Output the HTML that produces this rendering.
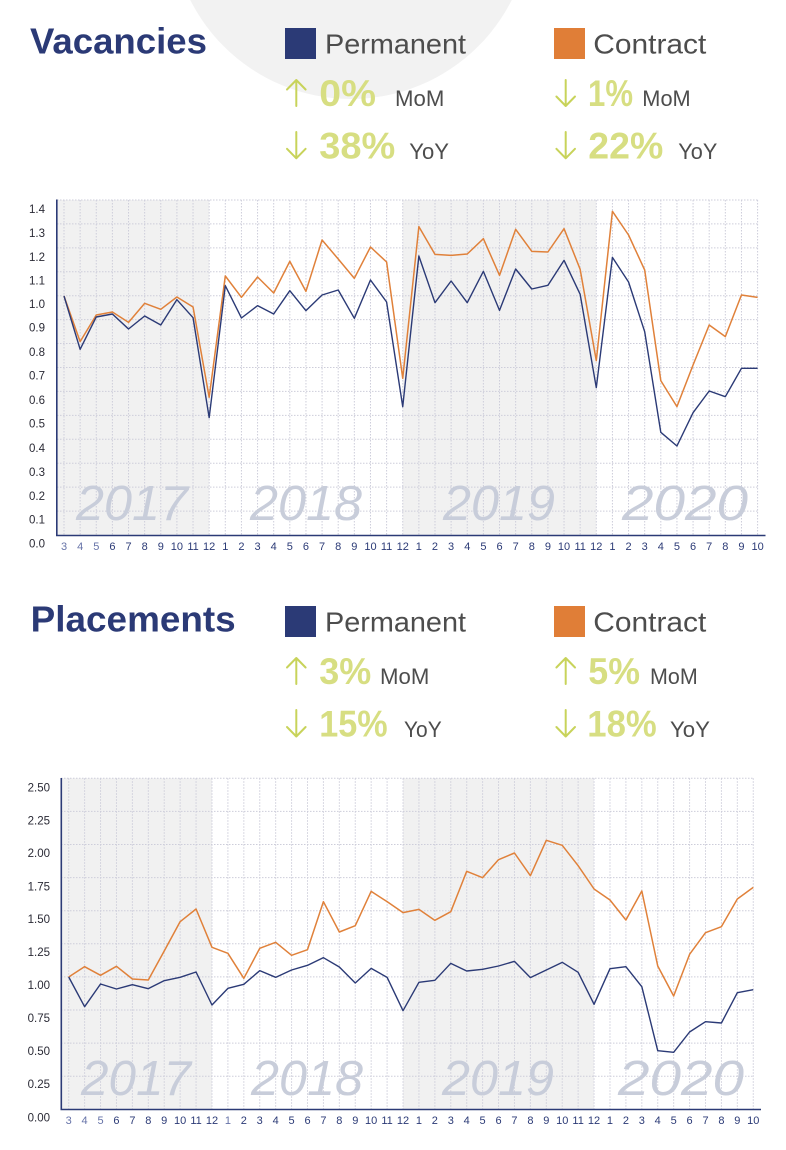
<!DOCTYPE html>
<html><head><meta charset="utf-8">
<style>
html,body{margin:0;padding:0;background:#fff;}
svg{display:block;font-family:"Liberation Sans",sans-serif;}
</style></head>
<body>
<svg width="786" height="1150" viewBox="0 0 786 1150" xmlns="http://www.w3.org/2000/svg">
<!-- background circle -->
<circle cx="351" cy="-81" r="180" fill="#f2f2f2"/>

<!-- ============ VACANCIES HEADER ============ -->
<text x="30" y="53.3" font-size="36" font-weight="bold" fill="#2b3a76" textLength="177" lengthAdjust="spacingAndGlyphs">Vacancies</text>
<rect x="285" y="28" width="31" height="31" fill="#2b3a76"/>
<text x="325" y="53.3" font-size="28" fill="#4d4d4d" textLength="141" lengthAdjust="spacingAndGlyphs">Permanent</text>
<rect x="554" y="28" width="31" height="31" fill="#e07e37"/>
<text x="593.3" y="53.3" font-size="28" fill="#4d4d4d" textLength="113" lengthAdjust="spacingAndGlyphs">Contract</text>

<g fill="none" stroke="#c8d35a" stroke-width="2" stroke-linecap="round" stroke-linejoin="round">
  <path d="M296.3 80V106M287 89.5L296.3 80L305.6 89.5"/>
  <path d="M296.3 132V158.3M287 148.8L296.3 158.3L305.6 148.8"/>
  <path d="M565.7 80V106M556.4 96.5L565.7 106L575 96.5"/>
  <path d="M565.7 132V158.3M556.4 148.8L565.7 158.3L575 148.8"/>
</g>
<g font-weight="bold" font-size="37" fill="#d7de82">
  <text x="319.3" y="106" textLength="56.7" lengthAdjust="spacingAndGlyphs">0%</text>
  <text x="319.3" y="158.7" textLength="76" lengthAdjust="spacingAndGlyphs">38%</text>
  <text x="588" y="106" textLength="45" lengthAdjust="spacingAndGlyphs">1%</text>
  <text x="588.3" y="158.7" textLength="75" lengthAdjust="spacingAndGlyphs">22%</text>
</g>
<g font-size="22" fill="#4d4d4d">
  <text x="395" y="106" textLength="49.3" lengthAdjust="spacingAndGlyphs">MoM</text>
  <text x="409.3" y="159" textLength="39.7" lengthAdjust="spacingAndGlyphs">YoY</text>
  <text x="642.3" y="106" textLength="48.4" lengthAdjust="spacingAndGlyphs">MoM</text>
  <text x="678.3" y="159" textLength="39" lengthAdjust="spacingAndGlyphs">YoY</text>
</g>

<!-- ============ CHART 1 ============ -->
<rect x="57" y="200" width="152.2" height="335" fill="#f1f1f1"/>
<rect x="402.7" y="200" width="193.6" height="335" fill="#f1f1f1"/>
<g stroke="#cdcdda" stroke-width="1" stroke-dasharray="1.5 1.5" fill="none">
  <path transform="translate(0,535) scale(1,-23.93)" vector-effect="non-scaling-stroke" d="M57 1H758M57 2H758M57 3H758M57 4H758M57 5H758M57 6H758M57 7H758M57 8H758M57 9H758M57 10H758M57 11H758M57 12H758M57 13H758M57 14H758"/>
  <path transform="translate(64,0) scale(16.13,1)" vector-effect="non-scaling-stroke" d="M0 200V535M1 200V535M2 200V535M3 200V535M4 200V535M5 200V535M6 200V535M7 200V535M8 200V535M9 200V535M10 200V535M11 200V535M12 200V535M13 200V535M14 200V535M15 200V535M16 200V535M17 200V535M18 200V535M19 200V535M20 200V535M21 200V535M22 200V535M23 200V535M24 200V535M25 200V535M26 200V535M27 200V535M28 200V535M29 200V535M30 200V535M31 200V535M32 200V535M33 200V535M34 200V535M35 200V535M36 200V535M37 200V535M38 200V535M39 200V535M40 200V535M41 200V535M42 200V535M43 200V535"/>
</g>
<g font-size="49" font-style="italic" fill="#c8cdda">
  <text x="76" y="520" textLength="112" lengthAdjust="spacingAndGlyphs">2017</text>
  <text x="250" y="520" textLength="112" lengthAdjust="spacingAndGlyphs">2018</text>
  <text x="443" y="520" textLength="112" lengthAdjust="spacingAndGlyphs">2019</text>
  <text x="622" y="520" textLength="126" lengthAdjust="spacingAndGlyphs">2020</text>
</g>
<g transform="translate(64,190) scale(16.13,0.333333)" fill="none" stroke-linejoin="round">
  <polyline vector-effect="non-scaling-stroke" stroke="#e0813a" stroke-width="1.5" points="0,318 1,455 2,375 3,366 4,397 5,340 6,358 7,321 8,351 9,622 10,258 11,322 12,261 13,309 14,214 15,304 16,150 17,207 18,265 19,171 20,216 21,565 22,110 23,193 24,196 25,192 26,146 27,256 28,118 29,184 30,186 31,116 32,238 33,512 34,64 35,135 36,240 37,572 38,650 39,525 40,405 41,440 42,315 43,322"/>
  <polyline vector-effect="non-scaling-stroke" stroke="#2b3a76" stroke-width="1.4" points="0,318 1,478 2,381 3,372 4,417 5,378 6,405 7,329 8,383 9,683 10,287 11,384 12,347 13,372 14,302 15,362 16,315 17,300 18,385 19,270 20,336 21,650 22,198 23,338 24,273 25,338 26,244 27,361 28,237 29,297 30,286 31,211 32,313 33,593 34,202 35,276 36,425 37,727 38,768 39,668 40,603 41,620 42,535 43,535"/>
</g>
<path d="M56.8 199.5V535.5H765.5" fill="none" stroke="#2b3a76" stroke-width="1.6"/>
<g font-size="11.5" fill="#2a2a35" text-anchor="end">
  <text x="45" y="213">1.4</text><text x="45" y="237">1.3</text><text x="45" y="261">1.2</text><text x="45" y="284.7">1.1</text><text x="45" y="308">1.0</text><text x="45" y="331.7">0.9</text><text x="45" y="356">0.8</text><text x="45" y="379.7">0.7</text><text x="45" y="404">0.6</text><text x="45" y="427.7">0.5</text><text x="45" y="452">0.4</text><text x="45" y="476">0.3</text><text x="45" y="500">0.2</text><text x="45" y="523.3">0.1</text><text x="45" y="547.3">0.0</text>
</g>
<g font-size="11" fill="#2b3a76" text-anchor="middle">
  <text x="64" y="550" fill="#6673a8">3</text><text x="80.13" y="550" fill="#6673a8">4</text><text x="96.26" y="550" fill="#6673a8">5</text><text x="112.39" y="550">6</text><text x="128.52" y="550">7</text><text x="144.65" y="550">8</text><text x="160.78" y="550">9</text><text x="176.91" y="550">10</text><text x="193.04" y="550">11</text><text x="209.17" y="550">12</text>
  <text x="225.3" y="550">1</text><text x="241.43" y="550">2</text><text x="257.56" y="550">3</text><text x="273.69" y="550">4</text><text x="289.82" y="550">5</text><text x="305.95" y="550">6</text><text x="322.08" y="550">7</text><text x="338.21" y="550">8</text><text x="354.34" y="550">9</text><text x="370.47" y="550">10</text><text x="386.6" y="550">11</text><text x="402.73" y="550">12</text>
  <text x="418.86" y="550">1</text><text x="434.99" y="550">2</text><text x="451.12" y="550">3</text><text x="467.25" y="550">4</text><text x="483.38" y="550">5</text><text x="499.51" y="550">6</text><text x="515.64" y="550">7</text><text x="531.77" y="550">8</text><text x="547.9" y="550">9</text><text x="564.03" y="550">10</text><text x="580.16" y="550">11</text><text x="596.29" y="550">12</text>
  <text x="612.42" y="550">1</text><text x="628.55" y="550">2</text><text x="644.68" y="550">3</text><text x="660.81" y="550">4</text><text x="676.94" y="550">5</text><text x="693.07" y="550">6</text><text x="709.2" y="550">7</text><text x="725.33" y="550">8</text><text x="741.46" y="550">9</text><text x="757.59" y="550">10</text>
</g>

<!-- ============ PLACEMENTS HEADER ============ -->
<text x="30.7" y="631.7" font-size="36" font-weight="bold" fill="#2b3a76" textLength="205" lengthAdjust="spacingAndGlyphs">Placements</text>
<rect x="285" y="606" width="31" height="31" fill="#2b3a76"/>
<text x="325" y="631.3" font-size="28" fill="#4d4d4d" textLength="141" lengthAdjust="spacingAndGlyphs">Permanent</text>
<rect x="554" y="606" width="31" height="31" fill="#e07e37"/>
<text x="593.3" y="631.3" font-size="28" fill="#4d4d4d" textLength="113" lengthAdjust="spacingAndGlyphs">Contract</text>

<g fill="none" stroke="#c8d35a" stroke-width="2" stroke-linecap="round" stroke-linejoin="round">
  <path d="M296.3 658V684M287 667.5L296.3 658L305.6 667.5"/>
  <path d="M296.3 710V736.5M287 727L296.3 736.5L305.6 727"/>
  <path d="M565.7 658V684M556.4 667.5L565.7 658L575 667.5"/>
  <path d="M565.7 710V736.5M556.4 727L565.7 736.5L575 727"/>
</g>
<g font-weight="bold" font-size="37" fill="#d7de82">
  <text x="319.3" y="684" textLength="52" lengthAdjust="spacingAndGlyphs">3%</text>
  <text x="319.3" y="736.7" textLength="68.4" lengthAdjust="spacingAndGlyphs">15%</text>
  <text x="588.3" y="684" textLength="51.7" lengthAdjust="spacingAndGlyphs">5%</text>
  <text x="587.3" y="736.7" textLength="69.4" lengthAdjust="spacingAndGlyphs">18%</text>
</g>
<g font-size="22" fill="#4d4d4d">
  <text x="380" y="684" textLength="49.3" lengthAdjust="spacingAndGlyphs">MoM</text>
  <text x="404" y="737" textLength="37.7" lengthAdjust="spacingAndGlyphs">YoY</text>
  <text x="650" y="684" textLength="47.7" lengthAdjust="spacingAndGlyphs">MoM</text>
  <text x="670" y="737" textLength="40" lengthAdjust="spacingAndGlyphs">YoY</text>
</g>

<!-- ============ CHART 2 ============ -->
<rect x="61.3" y="778.3" width="150.7" height="331" fill="#f1f1f1"/>
<rect x="403" y="778.3" width="191" height="331" fill="#f1f1f1"/>
<g stroke="#cdcdda" stroke-width="1" stroke-dasharray="1.5 1.5" fill="none">
  <path transform="translate(0,1109.3) scale(1,-33.1)" vector-effect="non-scaling-stroke" d="M61 1H753.7M61 2H753.7M61 3H753.7M61 4H753.7M61 5H753.7M61 6H753.7M61 7H753.7M61 8H753.7M61 9H753.7M61 10H753.7"/>
  <path transform="translate(68.7,0) scale(15.92,1)" vector-effect="non-scaling-stroke" d="M0 778.3V1109.3M1 778.3V1109.3M2 778.3V1109.3M3 778.3V1109.3M4 778.3V1109.3M5 778.3V1109.3M6 778.3V1109.3M7 778.3V1109.3M8 778.3V1109.3M9 778.3V1109.3M10 778.3V1109.3M11 778.3V1109.3M12 778.3V1109.3M13 778.3V1109.3M14 778.3V1109.3M15 778.3V1109.3M16 778.3V1109.3M17 778.3V1109.3M18 778.3V1109.3M19 778.3V1109.3M20 778.3V1109.3M21 778.3V1109.3M22 778.3V1109.3M23 778.3V1109.3M24 778.3V1109.3M25 778.3V1109.3M26 778.3V1109.3M27 778.3V1109.3M28 778.3V1109.3M29 778.3V1109.3M30 778.3V1109.3M31 778.3V1109.3M32 778.3V1109.3M33 778.3V1109.3M34 778.3V1109.3M35 778.3V1109.3M36 778.3V1109.3M37 778.3V1109.3M38 778.3V1109.3M39 778.3V1109.3M40 778.3V1109.3M41 778.3V1109.3M42 778.3V1109.3M43 778.3V1109.3"/>
</g>
<g font-size="49" font-style="italic" fill="#c8cdda">
  <text x="81" y="1095" textLength="110" lengthAdjust="spacingAndGlyphs">2017</text>
  <text x="251" y="1095" textLength="112" lengthAdjust="spacingAndGlyphs">2018</text>
  <text x="442" y="1095" textLength="112" lengthAdjust="spacingAndGlyphs">2019</text>
  <text x="618" y="1095" textLength="126" lengthAdjust="spacingAndGlyphs">2020</text>
</g>
<g transform="translate(68.7,770) scale(15.92,0.333333)" fill="none" stroke-linejoin="round">
  <polyline vector-effect="non-scaling-stroke" stroke="#e0813a" stroke-width="1.5" points="0,621 1,590 2,616 3,589 4,627 5,630 6,543 7,455 8,417 9,532 10,550 11,625 12,535 13,517 14,556 15,539 16,395 17,486 18,467 19,364 20,395 21,428 22,418 23,451 24,425 25,304 26,323 27,269 28,249 29,317 30,211 31,226 32,287 33,357 34,390 35,450 36,363 37,588 38,678 39,553 40,488 41,470 42,387 43,352"/>
  <polyline vector-effect="non-scaling-stroke" stroke="#2b3a76" stroke-width="1.4" points="0,621 1,710 2,642 3,657 4,644 5,656 6,632 7,622 8,606 9,705 10,655 11,643 12,602 13,622 14,600 15,586 16,563 17,591 18,639 19,595 20,622 21,722 22,637 23,631 24,580 25,603 26,598 27,588 28,574 29,623 30,600 31,577 32,607 33,703 34,596 35,590 36,650 37,842 38,847 39,786 40,755 41,759 42,668 43,659"/>
</g>
<path d="M61.3 778V1109.5H761" fill="none" stroke="#2b3a76" stroke-width="1.6"/>
<g font-size="11.5" fill="#2a2a35" text-anchor="end">
  <text x="50" y="791.3">2.50</text><text x="50" y="824.7">2.25</text><text x="50" y="857">2.00</text><text x="50" y="890.3">1.75</text><text x="50" y="923">1.50</text><text x="50" y="956">1.25</text><text x="50" y="989">1.00</text><text x="50" y="1022">0.75</text><text x="50" y="1055">0.50</text><text x="50" y="1088">0.25</text><text x="50" y="1121.3">0.00</text>
</g>
<g font-size="11" fill="#2b3a76" text-anchor="middle">
  <text x="68.7" y="1124" fill="#6673a8">3</text><text x="84.62" y="1124" fill="#6673a8">4</text><text x="100.54" y="1124" fill="#6673a8">5</text><text x="116.46" y="1124">6</text><text x="132.38" y="1124">7</text><text x="148.3" y="1124">8</text><text x="164.22" y="1124">9</text><text x="180.14" y="1124">10</text><text x="196.06" y="1124">11</text><text x="211.98" y="1124">12</text>
  <text x="227.9" y="1124" fill="#6673a8">1</text><text x="243.82" y="1124">2</text><text x="259.74" y="1124">3</text><text x="275.66" y="1124">4</text><text x="291.58" y="1124">5</text><text x="307.5" y="1124">6</text><text x="323.42" y="1124">7</text><text x="339.34" y="1124">8</text><text x="355.26" y="1124">9</text><text x="371.18" y="1124">10</text><text x="387.1" y="1124">11</text><text x="403.02" y="1124">12</text>
  <text x="418.94" y="1124">1</text><text x="434.86" y="1124">2</text><text x="450.78" y="1124">3</text><text x="466.7" y="1124">4</text><text x="482.62" y="1124">5</text><text x="498.54" y="1124">6</text><text x="514.46" y="1124">7</text><text x="530.38" y="1124">8</text><text x="546.3" y="1124">9</text><text x="562.22" y="1124">10</text><text x="578.14" y="1124">11</text><text x="594.06" y="1124">12</text>
  <text x="609.98" y="1124">1</text><text x="625.9" y="1124">2</text><text x="641.82" y="1124">3</text><text x="657.74" y="1124">4</text><text x="673.66" y="1124">5</text><text x="689.58" y="1124">6</text><text x="705.5" y="1124">7</text><text x="721.42" y="1124">8</text><text x="737.34" y="1124">9</text><text x="753.26" y="1124">10</text>
</g>
</svg>
</body></html>
